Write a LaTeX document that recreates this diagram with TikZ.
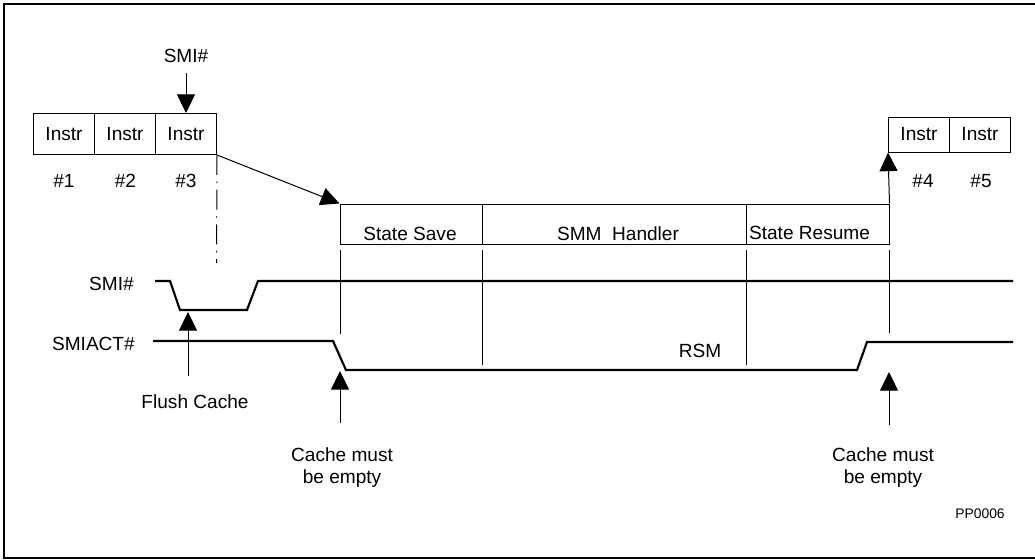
\documentclass[tikz,border=0pt]{standalone}
\usepackage{fontspec}
\setmainfont{Liberation Sans}
\usetikzlibrary{arrows.meta}
\begin{document}
\begin{tikzpicture}[x=0.75pt,y=-0.75pt,
  thinline/.style={line width=0.75pt},
  sig/.style={line width=1.6pt, line join=miter},
  arr/.style={line width=0.75pt,-{Triangle[width=13.5pt,length=14pt]}},
  ibox/.style={draw, line width=0.75pt, minimum width=45.75pt, minimum height=30.75pt, inner sep=0pt, font=\fontsize{14.3}{17}\selectfont},
  pbox/.style={draw, line width=0.75pt, minimum height=30pt, inner sep=0pt},
  lbl/.style={font=\fontsize{14.3}{16.5}\selectfont, inner sep=0pt, align=center},
  dashdot/.style={line width=0.75pt, dash pattern=on 15pt off 5pt on 1pt off 5pt},
]
\useasboundingbox (0,0) rectangle (1035,560);
% frame
\draw[line width=1.5pt] (1035,4) -- (3.5,4) -- (3.5,558) -- (1035,558);

% instruction boxes
\node[ibox] (i1) at (64,134) {Instr};
\node[ibox] (i2) at (125,134) {Instr};
\node[ibox] (i3) at (186,134) {Instr};
\node[ibox, minimum height=26.25pt] (i4) at (919,134.5) {Instr};
\node[ibox, minimum height=26.25pt] (i5) at (980,134.5) {Instr};

\node[lbl] (n1) at (64,181) {\#1};
\node[lbl] (n2) at (125.5,181) {\#2};
\node[lbl] (n3) at (186,181) {\#3};
\node[lbl] (n4) at (923,181) {\#4};
\node[lbl] (n5) at (981,181) {\#5};

% SMI# interrupt arrow
\node[lbl, anchor=base] (smitop) at (186,63) {SMI\#};
\draw[arr, shorten <=7pt] (smitop.south) -- (i3.north);

% dash-dot marker
\coordinate (ddEnd) at (216.5,263);
\draw[dashdot] (i3.south east) -- (ddEnd);

% SMM phase boxes
\node[pbox, minimum width=106.5pt] (ss) at (411,224) {};
\node[pbox, minimum width=198pt] (smm) at (614,224) {};
\node[pbox, minimum width=107.25pt] (sr) at (817.5,224) {};
\node[lbl, anchor=base] (tss) at (410,240) {State Save};
\node[lbl, anchor=base] (tsmm) at (618,240) {SMM\ \ Handler};
\node[lbl, anchor=base] (tsr) at (809.5,239.5) {State Resume};

\draw[arr] (i3.south east) -- (ss.north west);
\draw[arr] (sr.north east) -- (i4.south west);

% vertical markers
\draw[thinline] (340,250) -- (340,334);
\draw[thinline] (482,250) -- (482,365);
\draw[thinline] (746,250) -- (746,365);
\draw[thinline] (889,250) -- (889,333);

% signals
\node[lbl, anchor=east] (lsmi) at (134,284) {SMI\#};
\node[lbl, anchor=east] (lsmiact) at (135,344) {SMIACT\#};
\draw[sig] (155,281) -- (170,281) -- (180,310) -- (247,310) -- (258,281) -- (1013,281);
\draw[sig] (153,341) -- (333,341) -- (346,370) -- (857,370) -- (867,342) -- (1013,342);
\node[lbl, anchor=base] (rsm) at (700,357) {RSM};

% Flush cache
\node[lbl, anchor=base] (fc) at (195,408) {Flush Cache};
\coordinate (fcTip) at (188,312);
\coordinate (fcTail) at (188,376);
\draw[arr] (fcTail) -- (fcTip);

% cache must be empty
\node[lbl, anchor=north] (cm1) at (342,447) {Cache must\\be empty};
\coordinate (cmTip1) at (340,371);
\coordinate (cmTail1) at (340,423);
\draw[arr] (cmTail1) -- (cmTip1);

\node[lbl, anchor=north] (cm2) at (883,447) {Cache must\\be empty};
\coordinate (cmTip2) at (889,372);
\coordinate (cmTail2) at (889,425);
\draw[arr] (cmTail2) -- (cmTip2);

\node[font=\fontsize{10.4}{12}\selectfont, inner sep=0pt, anchor=base] (pp) at (980,518) {PP0006};
\end{tikzpicture}
\end{document}
